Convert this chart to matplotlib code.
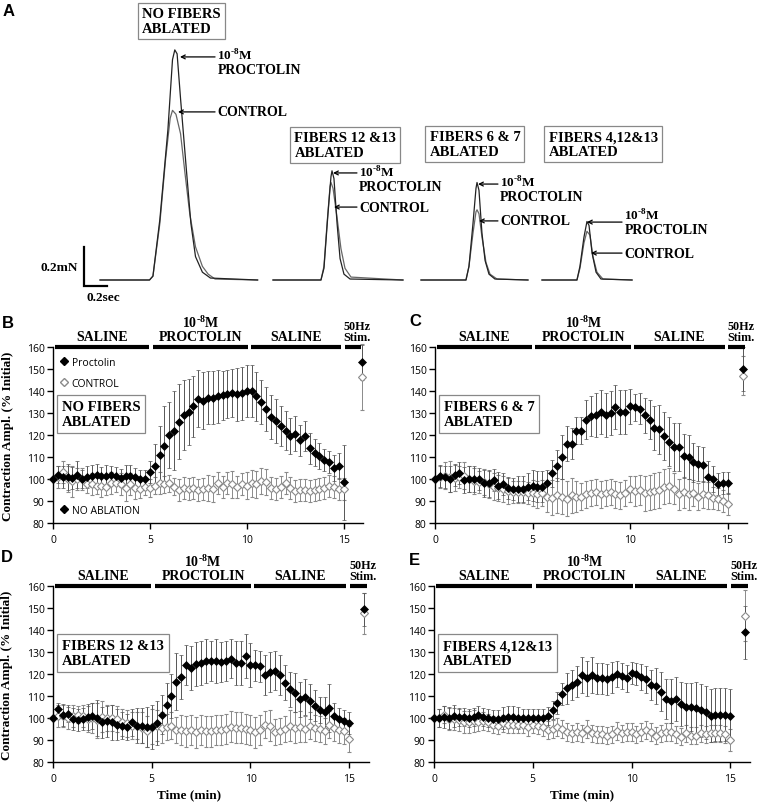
import matplotlib
matplotlib.use('Agg')
import matplotlib.pyplot as plt
from matplotlib.lines import Line2D
import numpy as np

plt.rcParams['font.family'] = ['Open Sans', 'DejaVu Sans']
SERIF = 'Liberation Serif'

# -----------------------------------------------------------------------------
# Panel A: single twitch traces, time since trace start (s) / force (mN)
# -----------------------------------------------------------------------------
tr1_proc_t = [0, 0.43, 0.46, 0.52, 0.59, 0.63, 0.65, 0.67, 0.70, 0.75, 0.79, 0.83, 0.89, 0.96, 1.37]
tr1_proc_f = [0, 0, 0.02, 0.31, 0.77, 1.13, 1.18, 1.16, 0.93, 0.57, 0.29, 0.12, 0.04, 0.01, 0]
tr1_ctrl_t = [0, 0.43, 0.46, 0.52, 0.57, 0.61, 0.63, 0.66, 0.70, 0.74, 0.78, 0.83, 0.89, 0.94, 1.00, 1.37]
tr1_ctrl_f = [0, 0, 0.02, 0.29, 0.62, 0.83, 0.87, 0.85, 0.75, 0.54, 0.34, 0.17, 0.07, 0.03, 0.005, 0]

tr2_proc_t = [0, 0.417, 0.443, 0.478, 0.504, 0.513, 0.530, 0.557, 0.583, 0.617, 0.670, 1.13]
tr2_proc_f = [0, 0, 0.06, 0.34, 0.53, 0.56, 0.52, 0.29, 0.11, 0.03, 0.005, 0]
tr2_ctrl_t = [0, 0.417, 0.443, 0.470, 0.496, 0.504, 0.522, 0.557, 0.591, 0.626, 0.678, 1.13]
tr2_ctrl_f = [0, 0, 0.07, 0.29, 0.48, 0.50, 0.47, 0.32, 0.16, 0.06, 0.015, 0]

tr3_proc_t = [0, 0.391, 0.417, 0.452, 0.478, 0.487, 0.504, 0.530, 0.557, 0.591, 0.643, 0.930]
tr3_proc_f = [0, 0, 0.07, 0.29, 0.47, 0.50, 0.46, 0.24, 0.10, 0.03, 0.005, 0]
tr3_ctrl_t = [0, 0.391, 0.417, 0.452, 0.478, 0.487, 0.504, 0.530, 0.565, 0.600, 0.661, 0.930]
tr3_ctrl_f = [0, 0, 0.07, 0.24, 0.35, 0.36, 0.34, 0.22, 0.09, 0.03, 0.005, 0]

tr4_proc_t = [0, 0.304, 0.330, 0.365, 0.391, 0.409, 0.435, 0.470, 0.513, 0.783]
tr4_proc_f = [0, 0, 0.07, 0.22, 0.30, 0.28, 0.14, 0.04, 0.005, 0]
tr4_ctrl_t = [0, 0.304, 0.330, 0.365, 0.391, 0.417, 0.443, 0.478, 0.530, 0.783]
tr4_ctrl_f = [0, 0, 0.06, 0.19, 0.25, 0.23, 0.12, 0.04, 0.005, 0]

trace_names = ['NO FIBERS\nABLATED', 'FIBERS 12 &13\nABLATED',
               'FIBERS 6 & 7\nABLATED', 'FIBERS 4,12&13\nABLATED']

# -----------------------------------------------------------------------------
# Panels B-E: contraction amplitude (% initial), every 0.25 min, + 50 Hz stim
# -----------------------------------------------------------------------------
time_min = np.arange(0, 15.01, 0.25)

B_proc = [100, 102, 101, 101, 100.5, 102, 100, 101, 101.5, 102, 101.5, 101.5, 102, 101.5, 100.5, 101.5, 101.5, 101, 100, 100,
          103, 106, 111, 115, 120, 122, 126, 129, 130.5, 133, 136.5, 135.5, 137, 137, 137.5, 138, 138.5, 139, 138.5, 139,
          140, 140, 137.5, 135, 132, 128, 126.5, 124, 122, 119.5, 120.5, 117.5, 119.5, 114, 112, 110.5, 108.5, 107.5, 105, 106, 98.5]
B_proc_err = [0, 4, 5, 6, 5, 6, 4, 5, 5, 5, 4, 5, 4, 4, 4, 5, 5, 4, 4, 4,
              5, 10, 13, 18, 15, 18, 17, 16, 15, 14, 13, 13, 12, 12, 12, 11, 11, 11, 12, 12,
              12, 12, 11, 10, 10, 10, 10, 9, 9, 8, 8, 7, 7, 7, 6, 6, 5, 5, 6, 6, 17]
B_ctrl = [100, 101, 103, 100, 99, 100, 100, 97.5, 97.5, 97, 97, 96.5, 98, 98, 97.5, 96, 97.5, 96, 95.5, 96.5,
          96, 97, 98, 97.5, 98, 96.5, 95, 96, 95.5, 96, 95, 95.5, 96, 95.5, 98, 96.5, 98, 97.5, 96.5, 97.5,
          97, 98, 97.5, 99, 98.5, 96, 95.5, 96.5, 98, 96, 94.5, 95, 95, 94.5, 95, 95.5, 96, 97, 96.5, 95.5, 95.5]
B_ctrl_err = [0, 5, 5, 6, 7, 5, 5, 4, 5, 4, 5, 4, 5, 4, 5, 6, 5, 5, 4, 4,
              4, 4, 5, 4, 4, 4, 5, 5, 5, 5, 5, 5, 6, 6, 5, 5, 5, 6, 5, 5,
              6, 6, 6, 6, 6, 5, 5, 5, 5, 5, 5, 5, 5, 5, 5, 5, 5, 5, 5, 5, 5]

C_proc = [100, 101.5, 101, 100, 102, 102.5, 99.5, 100, 100, 100, 98, 98, 99.5, 97, 97.5, 96, 95.5, 95.5, 95.5, 96.5,
          97, 96.5, 96.5, 98, 102.5, 106, 110, 116, 116, 122, 122, 127, 128.5, 129, 130.5, 129, 130, 132.5, 130.5, 130.5,
          133, 132.5, 132, 129, 127, 123, 122.5, 119.5, 117, 114.5, 114.5, 110.5, 110, 107.5, 107, 106.5, 101, 100, 97.5, 98, 98]
C_proc_err = [0, 5, 5, 6, 5, 5, 6, 6, 6, 5, 6, 6, 5, 6, 5, 5, 5, 6, 6, 6,
              7, 7, 7, 6, 6, 7, 10, 8, 7, 6, 6, 9, 9, 10, 10, 10, 10, 10, 10, 10,
              8, 6, 7, 8, 9, 10, 11, 11, 11, 11, 11, 10, 10, 9, 8, 8, 7, 6, 5, 5, 5]
C_ctrl = [100, 101, 101.5, 101, 100.5, 101, 101.5, 100, 99, 98.5, 98.5, 97.5, 96.5, 96, 95.5, 94.5, 94, 94, 94, 93.5,
          93.5, 93, 93.5, 92, 91.5, 92.5, 92, 91, 92.5, 92, 92, 93, 93.5, 94, 93, 93.5, 94, 93, 92.5, 93.5,
          95.5, 94.5, 95, 93.5, 94, 94.5, 95, 96.5, 97, 95.5, 93, 94, 93, 93.5, 92, 93, 92.5, 91.5, 91, 90, 88.5]
C_ctrl_err = [0, 5, 6, 7, 6, 5, 6, 6, 6, 5, 6, 6, 6, 6, 6, 6, 5, 5, 5, 5,
              6, 6, 6, 7, 8, 8, 8, 8, 8, 7, 6, 6, 6, 6, 6, 6, 6, 6, 6, 6,
              6, 7, 7, 8, 8, 8, 8, 8, 8, 7, 7, 7, 7, 6, 6, 6, 6, 5, 5, 5, 5]

D_proc = [100, 104, 101.5, 102, 99.5, 99, 99.5, 100.5, 101, 100, 98, 98.5, 98, 97, 96.5, 96, 98, 96.5, 96.5, 96,
          96, 97.5, 101.5, 106, 110, 116.5, 118.5, 124, 122.5, 124.5, 125, 126, 126, 126, 125.5, 126, 127, 125, 125, 128,
          124, 124, 123.5, 119.5, 121, 121.5, 119.5, 116, 113, 111.5, 108.5, 109.5, 107.5, 105.5, 103.5, 102.5, 104.5, 101, 99.5, 98.5, 97.5]
D_proc_err = [0, 3, 5, 4, 5, 5, 5, 6, 6, 8, 7, 7, 8, 7, 6, 6, 6, 8, 8, 9,
              10, 10, 9, 10, 10, 13, 10, 9, 10, 10, 10, 10, 9, 10, 9, 9, 9, 10, 10, 10,
              10, 7, 7, 9, 9, 9, 9, 8, 8, 9, 8, 8, 8, 7, 6, 7, 11, 6, 5, 5, 5]
D_ctrl = [100, 101, 101, 100, 101, 101.5, 101, 99.5, 100, 99, 100.5, 100, 100, 99.5, 98, 97.5, 96.5, 96.5, 95.5, 94,
          96, 96.5, 95.5, 96, 96.5, 94.5, 94.5, 94, 94.5, 93.5, 94.5, 94, 94, 94.5, 94.5, 95, 96, 95.5, 95.5, 95,
          94.5, 93.5, 94.5, 97, 96.5, 93.5, 94, 95, 96.5, 95.5, 96, 95, 96.5, 95.5, 95, 94, 97, 95.5, 94.5, 94, 90.5]
D_ctrl_err = [0, 5, 5, 5, 5, 4, 5, 6, 7, 8, 7, 6, 6, 6, 6, 6, 6, 6, 7, 7,
              8, 7, 7, 6, 6, 6, 7, 7, 7, 7, 7, 7, 7, 7, 7, 7, 7, 7, 7, 7,
              7, 7, 7, 6, 7, 6, 6, 6, 7, 7, 7, 6, 6, 6, 6, 6, 6, 6, 6, 6, 6]

E_proc = [100, 100, 100.5, 100, 101, 100.5, 100.5, 100, 100.5, 101.5, 100.5, 100, 99.5, 99.5, 100, 100.5, 100.5, 100, 100, 100,
          100, 100, 100, 101, 103.5, 107, 111, 113.5, 115, 116.5, 119.5, 118, 119.5, 118, 118, 117.5, 118.5, 120, 119, 118,
          120.5, 120, 118.5, 117.5, 115, 114.5, 112, 108.5, 107.5, 108.5, 106.5, 105, 105, 104.5, 103.5, 102.5, 101, 101.5, 101.5, 101.5, 101]
E_proc_err = [0, 4, 5, 5, 5, 4, 4, 4, 4, 4, 4, 4, 4, 4, 5, 5, 5, 5, 4, 4,
              4, 4, 4, 4, 4, 5, 5, 7, 7, 7, 8, 8, 8, 7, 7, 7, 7, 6, 6, 6,
              5, 5, 6, 6, 7, 8, 9, 9, 10, 10, 10, 11, 11, 12, 12, 12, 12, 12, 12, 12, 12]
E_ctrl = [100, 100, 101.5, 99.5, 99.5, 99, 98, 98, 98.5, 98, 98.5, 98, 97, 96.5, 97.5, 97, 97, 97, 97, 96,
          97, 96.5, 96, 94.5, 95, 96, 95, 93.5, 93, 93.5, 93, 95, 93, 92.5, 92.5, 92, 92.5, 94, 93, 93.5,
          93.5, 92.5, 93.5, 94.5, 93.5, 92, 93, 93.5, 93.5, 92.5, 91.5, 93, 92, 92, 93, 92.5, 93, 93, 93, 92.5, 90]
E_ctrl_err = [0, 4, 4, 5, 5, 5, 5, 5, 5, 4, 4, 4, 4, 4, 4, 4, 4, 4, 4, 4,
              4, 4, 4, 4, 4, 4, 4, 4, 4, 4, 4, 4, 4, 4, 4, 4, 4, 4, 4, 4,
              4, 4, 4, 4, 4, 4, 4, 4, 4, 4, 4, 4, 4, 4, 4, 4, 4, 4, 4, 4, 5]

# 50 Hz stimulation point (one value per panel B, C, D, E)
stim_proc = [153, 150, 149.5, 139]
stim_proc_err = [8, 10, 7.5, 12]
stim_ctrl = [146.5, 147, 147.5, 146.5]
stim_ctrl_err = [15, 9, 9.5, 11.5]
stim_time = [15.95, 15.8, 15.75, 15.75]

# perfusion periods (min)
SUP = '10$^{\\mathregular{\u20108}}$M'
period_labels = ['SALINE', SUP + '\nPROCTOLIN', 'SALINE', '50Hz\nStim.']
period_start = [0.1, 5.15, 10.2, 15.05]
period_end = [4.95, 10.05, 14.85, 15.9]

panel_names = ['NO FIBERS\nABLATED', 'FIBERS 6 & 7\nABLATED',
               'FIBERS 12 &13\nABLATED', 'FIBERS 4,12&13\nABLATED']

fig = plt.figure(figsize=(7.6, 8.04), dpi=100)

# -----------------------------------------------------------------------------
# A) traces
# -----------------------------------------------------------------------------
PXS, PXM = 115.0, 195.0   # pixels per second, pixels per mN
axA = fig.add_axes([0, 1 - 300 / 804, 1, 300 / 804])
axA.set_xlim(0, 760 / PXS)
axA.set_ylim(-19 / PXM, 281 / PXM)
axA.axis('off')

traces = [(tr1_proc_t, tr1_proc_f, tr1_ctrl_t, tr1_ctrl_f),
          (tr2_proc_t, tr2_proc_f, tr2_ctrl_t, tr2_ctrl_f),
          (tr3_proc_t, tr3_proc_f, tr3_ctrl_t, tr3_ctrl_f),
          (tr4_proc_t, tr4_proc_f, tr4_ctrl_t, tr4_ctrl_f)]
trace_x0 = [0.87, 2.374, 3.661, 4.713]
for (pt, pf, ct, cf), x0 in zip(traces, trace_x0):
    axA.plot(np.array(ct) + x0, cf, color='#666666', lw=0.9)
    axA.plot(np.array(pt) + x0, pf, color='#222222', lw=0.9)

# name boxes (left x, centre y)
box_pos = [(1.235, 1.328), (2.560, 0.692), (3.735, 0.697), (4.770, 0.697)]
for name, (bx, by) in zip(trace_names, box_pos):
    axA.text(bx, by, name, ha='left', va='center', fontsize=10.5, fontweight='bold',
             family=SERIF, linespacing=1.15,
             bbox=dict(boxstyle='square,pad=0.28', fc='white', ec='#888888', lw=0.9))

# arrows: (tail x, head x, y) for proctolin and control peaks
proc_arrows = [(1.870, 1.565, 1.144), (3.104, 2.896, 0.549), (4.330, 4.157, 0.492), (5.409, 5.104, 0.297)]
ctrl_arrows = [(1.870, 1.548, 0.862), (3.104, 2.904, 0.374), (4.330, 4.165, 0.303), (5.409, 5.139, 0.138)]
proc_text_y = [1.155, 0.555, 0.503, 0.334]
aprops = dict(arrowstyle='->', lw=0.9, color='black', shrinkA=0, shrinkB=0, mutation_scale=7)
for (tx, hx, y), ty in zip(proc_arrows, proc_text_y):
    axA.annotate('', xy=(hx, y), xytext=(tx, y), arrowprops=aprops)
    axA.text(tx + 0.02, ty, SUP, ha='left', va='center',
             fontsize=9.5, fontweight='bold', family=SERIF)
    axA.text(tx + 0.02, ty - 0.074, 'PROCTOLIN', ha='left', va='center',
             fontsize=10, fontweight='bold', family=SERIF)
for tx, hx, y in ctrl_arrows:
    axA.annotate('', xy=(hx, y), xytext=(tx, y), arrowprops=aprops)
    axA.text(tx + 0.02, y, 'CONTROL', ha='left', va='center',
             fontsize=10, fontweight='bold', family=SERIF)

# scale bar 0.2 mN / 0.2 s
sb_x, sb_y = 0.73, -0.031
axA.plot([sb_x, sb_x, sb_x + 0.2], [sb_y + 0.2, sb_y, sb_y], color='black', lw=1.6,
         solid_joinstyle='miter', clip_on=False)
axA.text(sb_x - 0.05, 0.067, '0.2mN', ha='right', va='center', fontsize=9.5,
         fontweight='bold', family=SERIF)
axA.text(sb_x + 0.02, -0.085, '0.2sec', ha='left', va='center', fontsize=9.5,
         fontweight='bold', family=SERIF)

# -----------------------------------------------------------------------------
# B-E) time courses
# -----------------------------------------------------------------------------
rects = [[0.0697, 0.3483, 0.408, 0.2189], [0.5724, 0.3483, 0.4105, 0.2189],
         [0.0697, 0.0510, 0.4158, 0.2189], [0.5711, 0.0510, 0.4158, 0.2189]]
series = [(B_proc, B_proc_err, B_ctrl, B_ctrl_err),
          (C_proc, C_proc_err, C_ctrl, C_ctrl_err),
          (D_proc, D_proc_err, D_ctrl, D_ctrl_err),
          (E_proc, E_proc_err, E_ctrl, E_ctrl_err)]

axes = []
for i, (rect, (pv, pe, cv, ce)) in enumerate(zip(rects, series)):
    ax = fig.add_axes(rect)
    axes.append(ax)
    ctrl_kw = dict(fmt='D', ms=4.5, mfc='white', mec='#8a8a8a', mew=0.8,
                   ecolor='#8a8a8a', elinewidth=0.7, capsize=1.5, capthick=0.7, clip_on=False)
    proc_kw = dict(fmt='D', ms=4.5, mfc='black', mec='black', mew=0.5,
                   ecolor='#555555', elinewidth=0.7, capsize=1.5, capthick=0.7, clip_on=False)
    ax.errorbar(time_min, cv, yerr=ce, **ctrl_kw)
    ax.errorbar(time_min, pv, yerr=pe, **proc_kw)
    ax.errorbar([stim_time[i]], [stim_ctrl[i]], yerr=[stim_ctrl_err[i]], **ctrl_kw)
    ax.errorbar([stim_time[i]], [stim_proc[i]], yerr=[stim_proc_err[i]], **proc_kw)

    ax.set_xlim(0, 16)
    ax.set_ylim(80, 160)
    ax.set_xticks([0, 5, 10, 15])
    ax.set_yticks(np.arange(80, 161, 10))
    ax.tick_params(direction='out', length=4, width=1, labelsize=7.5, pad=2)
    ax.tick_params(axis='x', pad=4)
    for s in ['top', 'right']:
        ax.spines[s].set_visible(False)
    for s in ['left', 'bottom']:
        ax.spines[s].set_linewidth(1)

    # perfusion bars
    for lab, x1, x2 in zip(period_labels, period_start, period_end):
        ax.plot([x1, x2], [160, 160], color='black', lw=3, solid_capstyle='butt', clip_on=False)
        if lab.startswith('50Hz'):
            ax.annotate(lab, xy=(15.68, 160), xytext=(0, 3), textcoords='offset points',
                        ha='center', va='bottom', fontsize=8.7, fontweight='bold',
                        family=SERIF, linespacing=0.85, annotation_clip=False)
        else:
            ax.annotate(lab, xy=((x1 + x2) / 2, 160), xytext=(0, 3), textcoords='offset points',
                        ha='center', va='bottom', fontsize=10, fontweight='bold',
                        family=SERIF, linespacing=1.0, annotation_clip=False)

    ax.text(0.45, 129.5, panel_names[i], ha='left', va='center', fontsize=10.5,
            fontweight='bold', family=SERIF, linespacing=1.2,
            bbox=dict(boxstyle='square,pad=0.33', fc='white', ec='#888888', lw=0.9))

axB, axC, axD, axE = axes
for ax in (axB, axD):
    ax.set_ylabel('Contraction Ampl. (% Initial)', fontsize=9.5, fontweight='bold', family=SERIF)
    ax.yaxis.set_label_coords(-0.125, 0.5)
axD.set_xlabel('Time (min)', fontsize=9.5, fontweight='bold', family=SERIF)
axD.xaxis.set_label_coords(0.43, -0.15)
axE.set_xlabel('Time (min)', fontsize=9.5, fontweight='bold', family=SERIF)
axE.xaxis.set_label_coords(0.47, -0.15)

h_proc = Line2D([], [], marker='D', ls='none', ms=4.5, mfc='black', mec='black')
h_ctrl = Line2D([], [], marker='D', ls='none', ms=4.5, mfc='white', mec='#8a8a8a')
leg1 = axB.legend([h_proc, h_ctrl], ['Proctolin', 'CONTROL'], loc='upper left',
                  bbox_to_anchor=(0.0, 0.985), frameon=False, fontsize=7.5,
                  handlelength=0.8, handletextpad=0.3, labelspacing=0.95, borderaxespad=0.3)
axB.add_artist(leg1)
axB.legend([h_proc], ['NO ABLATION'], loc='lower left', bbox_to_anchor=(0.0, 0.0),
           frameon=False, fontsize=7.5, handlelength=0.8, handletextpad=0.3, borderaxespad=0.3)

# panel letters
for lab, px, py in [('A', 9, 12), ('B', 8, 323), ('C', 415, 322), ('D', 7, 558), ('E', 414, 561)]:
    fig.text(px / 760, 1 - py / 804, lab, ha='center', va='center', fontsize=12,
             fontweight='bold', family='Liberation Sans')

fig.savefig('out.png', dpi=100)
